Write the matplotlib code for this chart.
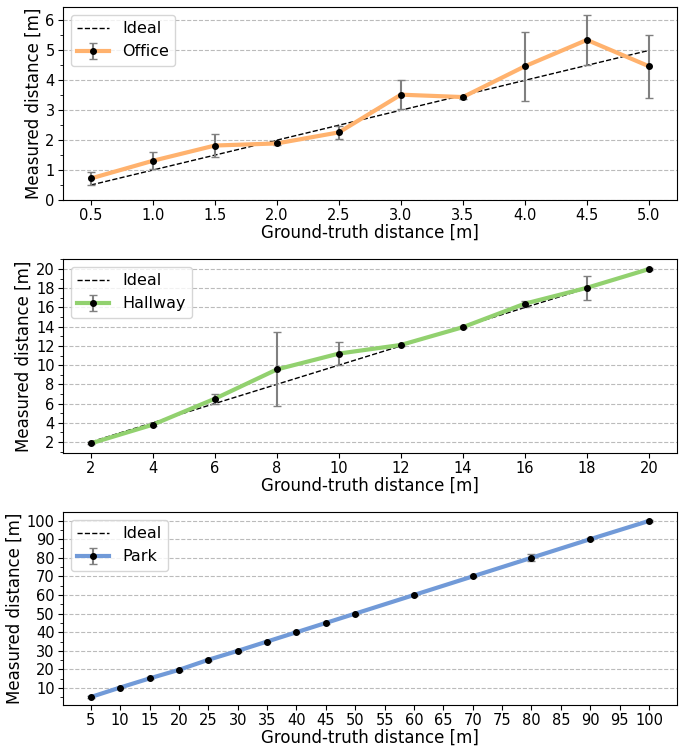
import matplotlib.pyplot as plt
from matplotlib.ticker import MultipleLocator

# Office
office_x = [0.5, 1.0, 1.5, 2.0, 2.5, 3.0, 3.5, 4.0, 4.5, 5.0]
office_y = [0.72, 1.31, 1.82, 1.89, 2.26, 3.52, 3.44, 4.47, 5.35, 4.47]
office_err = [0.23, 0.29, 0.37, 0.05, 0.21, 0.48, 0.05, 1.16, 0.85, 1.06]

# Hallway
hall_x = [2, 4, 6, 8, 10, 12, 14, 16, 18, 20]
hall_y = [1.85, 3.8, 6.5, 9.55, 11.2, 12.1, 13.95, 16.4, 18.05, 20.0]
hall_err = [0.1, 0.15, 0.5, 3.85, 1.2, 0.1, 0.1, 0.3, 1.25, 0.1]

# Park
park_x = [5, 10, 15, 20, 25, 30, 35, 40, 45, 50, 60, 70, 80, 90, 100]
park_y = [5.2, 10.3, 15.2, 19.8, 25.2, 30.0, 35.0, 40.0, 45.0, 50.0, 60.0, 70.0, 80.0, 90.0, 99.8]
park_err = [0.5, 0.5, 0.5, 0.5, 0.5, 0.5, 0.5, 0.5, 0.5, 0.5, 0.5, 0.5, 1.8, 0.5, 0.5]

panels = [
    (office_x, office_y, office_err, 'Office', '#ffb26e', office_x, 1, (0, 6.45)),
    (hall_x, hall_y, hall_err, 'Hallway', '#92d16f', hall_x, 2, (0.85, 21.05)),
    (park_x, park_y, park_err, 'Park', '#719ad8', list(range(5, 101, 5)), 10, (0.9, 104.6)),
]

fig = plt.figure(figsize=(6.83, 7.47), dpi=100)
boxes = [(0.7323, 0.9906), (0.3936, 0.6533), (0.0562, 0.3146)]

for (x, y, err, name, color, ticks, ystep, ylim), (b, t) in zip(panels, boxes):
    ax = fig.add_axes([0.0922, b, 0.991 - 0.0922, t - b])
    ax.plot([x[0], x[-1]], [x[0], x[-1]], 'k--', lw=1, label='Ideal', zorder=1)
    ax.errorbar(x, y, yerr=err, color=color, lw=3, marker='o', ms=4,
                mfc='black', mec='black', ecolor='gray', elinewidth=1.5,
                capsize=3, label=name, zorder=2)
    ax.set_xticks(ticks)
    ax.set_ylim(*ylim)
    ax.yaxis.set_major_locator(MultipleLocator(ystep))
    ax.yaxis.set_minor_locator(MultipleLocator(ystep / 2))
    ax.tick_params(labelsize=10.5, pad=2.5)
    ax.grid(axis='y', which='major', linestyle='--', color='#bbbbbb', lw=0.8)
    ax.set_xlabel('Ground-truth distance [m]', fontsize=12, labelpad=0)
    ax.set_ylabel('Measured distance [m]', fontsize=12, labelpad=2)
    ax.legend(loc='upper left', fontsize=11.5)

fig.savefig('out.png', dpi=100)
